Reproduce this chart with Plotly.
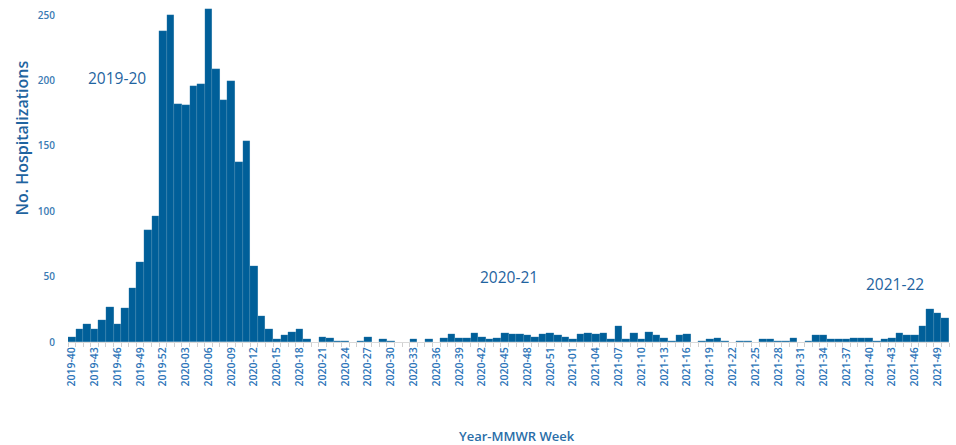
import plotly.graph_objects as go

# Season weeks: 2019-40..2019-52, 2020-01..2020-53, 2021-01..2021-50
years = [2019, 2020, 2021]
first_week = [40, 1, 1]
last_week = [52, 53, 50]
weeks = []
for y, a, b in zip(years, first_week, last_week):
    for w in range(a, b + 1):
        weeks.append(f"{y}-{w:02d}")

hospitalizations = [
    4, 10, 14, 10, 17, 27, 14, 26, 41, 61, 86, 96,
    238, 250, 182, 181, 196, 197, 255, 209, 185, 200, 138, 154,
    58, 20, 10, 2, 5, 8, 10, 2, None, 4, 3, 1,
    1, None, 1, 4, None, 2, 1, None, None, 2, None, 2,
    None, 3, 6, 3, 3, 7, 4, 2, 3, 7, 6, 6,
    5, 4, 6, 7, 5, 4, 2, 6, 7, 6, 7, 2,
    12, 2, 7, 2, 8, 5, 3, 1, 5, 6, None, 1,
    2, 3, 1, None, 1, 1, None, 2, 2, 1, 1, 3,
    None, 1, 5, 5, 2, 2, 2, 3, 3, 3, 1, 2,
    3, 7, 5, 5, 12, 25, 22, 18,
]

season_labels = ["2019-20", "2020-21", "2021-22"]

y_ticks = [0, 50, 100, 150, 200, 250]

tick_text = [w if i % 3 == 0 else "" for i, w in enumerate(weeks)]

BAR = "#005f99"
TXT = "#2a6ea8"

fig = go.Figure()
fig.add_trace(go.Bar(
    x=weeks, y=hospitalizations,
    marker=dict(color=BAR, line=dict(color="rgba(190,215,235,0.35)", width=0.3)),
    hoverinfo="x+y",
))

fig.update_layout(
    width=956, height=445,
    margin=dict(l=67.5, r=6.5, t=6, b=102.7, autoexpand=False),
    paper_bgcolor="white", plot_bgcolor="white",
    bargap=0,
    showlegend=False,
    font=dict(family="Open Sans", color=TXT),
    xaxis=dict(
        type="category",
        tickmode="array", tickvals=weeks, ticktext=tick_text,
        tickangle=-90,
        tickfont=dict(size=10.5, color="#2b74b8", weight=600),
        ticks="outside", ticklen=4, tickcolor="#d0d0d0", tickwidth=1,
        tickson="boundaries",
        showline=True, linecolor="#d9d9d9", linewidth=1,
        showgrid=False, zeroline=False,
        range=[-0.5, len(weeks) - 0.5],
    ),
    yaxis=dict(
        range=[0, 257],
        tickvals=y_ticks,
        tickfont=dict(size=10, color="#3a7ab3", weight=600),
        showgrid=False, zeroline=False, showline=False,
        ticklabelstandoff=12,
    ),
)

fig.add_annotation(
    text="No. Hospitalizations", textangle=-90,
    xref="paper", yref="paper", x=-0.0527, y=0.607,
    xanchor="center", yanchor="middle", showarrow=False,
    font=dict(size=16, color="#1f64a0", family="Open Sans", weight=600),
)
fig.add_annotation(
    text="Year-MMWR Week",
    xref="paper", yref="paper", x=0.51, y=-0.279,
    xanchor="center", yanchor="middle", showarrow=False,
    font=dict(size=13, color="#2a6ea8", family="Open Sans", weight=600),
)
label_pos = [(6.0, 202), (57.6, 50), (108.4, 44)]
for lab, (px, py) in zip(season_labels, label_pos):
    fig.add_annotation(
        text=lab, x=px, y=py, xref="x", yref="y",
        showarrow=False, xanchor="center", yanchor="middle",
        font=dict(size=15.5, color="#1f64a0", family="Open Sans"),
    )

fig.write_html("out.html", config={"displayModeBar": False},
               post_script="document.body.style.margin='0px';")
